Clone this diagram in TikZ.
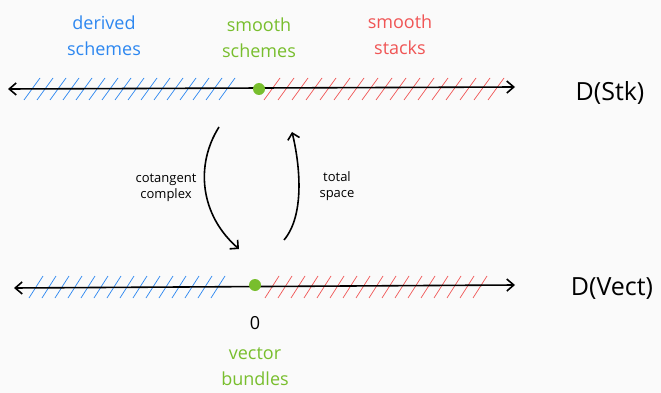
\documentclass[tikz,border=0pt]{standalone}
\usepackage{fontspec}
\setmainfont{Open Sans}
\usetikzlibrary{arrows.meta}
\definecolor{dblue}{RGB}{45,135,240}
\definecolor{sgreen}{RGB}{120,190,45}
\definecolor{sred}{RGB}{240,85,85}
\tikzset{
  axis/.style={line width=1.6pt,black,{Straight Barb[length=7pt,width=12pt]}-{Straight Barb[length=7pt,width=12pt]}},
  hatchb/.style={dblue,line width=0.7pt},
  hatchr/.style={sred,line width=0.7pt},
  dot/.style={circle,fill=sgreen,minimum width=9pt,minimum height=12pt,inner sep=0pt},
  lab/.style={font=\fontsize{18}{26}\selectfont,align=center},
  small/.style={font=\fontsize{13}{16}\selectfont,align=center},
  big/.style={font=\fontsize{25}{30}\selectfont},
  curvearrow/.style={line width=1.6pt,-{Straight Barb[length=6pt,width=12pt]}}
}
\begin{document}
\begin{tikzpicture}[x=1pt,y=-1pt]
\useasboundingbox[fill=white!98!black] (0,0) rectangle (661,393);
% top axis
\coordinate (tL) at (8,89);
\coordinate (tR) at (515,87);
\foreach \x in {32,45,...,232} \draw[hatchb] (\x-8,100) -- (\x+8,78);
\foreach \x in {272,286,...,496} \draw[hatchr] (\x-8,100) -- (\x+8,78);
\draw[axis] (tL) -- (tR);
\node[dot] (tdot) at (259,89) {};
% bottom axis
\coordinate (bL) at (14,288);
\coordinate (bR) at (515,285);
\foreach \x in {36,49,...,228} \draw[hatchb] (\x-7,298) -- (\x+7,276);
\foreach \x in {272,285,...,490} \draw[hatchr] (\x-7,298) -- (\x+7,276);
\draw[axis] (bL) -- (bR);
\node[dot] (bdot) at (255,285) {};
% labels
\node[lab,text=dblue] (der) at (104,36) {derived\\schemes};
\node[lab,text=sgreen] (ss) at (259,38) {smooth\\schemes};
\node[lab,text=sred] (st) at (400,35) {smooth\\stacks};
\node[big] (dstk) at (610,93) {D(Stk)};
\node[big] (dvect) at (612,289) {D(Vect)};
\node[lab] (zero) at (255,323) {0};
\node[lab,text=sgreen] (vb) at (255,367) {vector\\bundles};
\node[small] (cot) at (166,188) {cotangent\\complex};
\node[small] (tot) at (337,186) {total\\space};
% arrows
\coordinate (a1) at (219,127);
\coordinate (a2) at (239,249);
\coordinate (b1) at (284,240);
\coordinate (b2) at (292,132);
\draw[curvearrow] (a1) .. controls (195,165) and (200,215) .. (a2);
\draw[curvearrow] (b1) .. controls (305,215) and (300,165) .. (b2);
\end{tikzpicture}
\end{document}
